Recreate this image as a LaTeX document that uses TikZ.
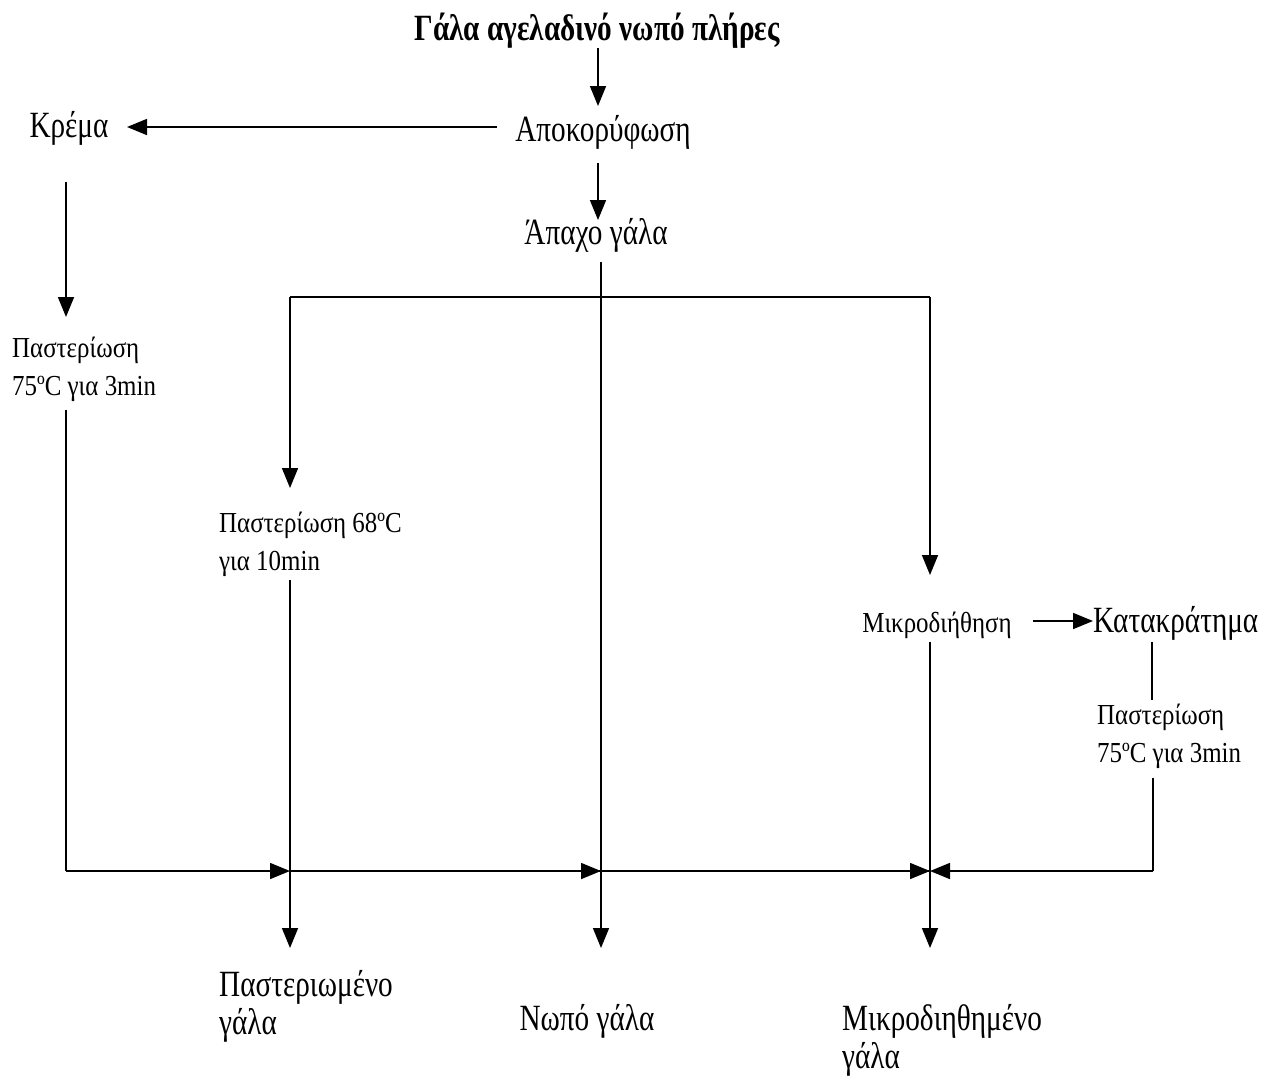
\documentclass[tikz,border=0pt]{standalone}
\usepackage{fontspec}
\setmainfont{Liberation Serif}[FakeStretch=0.79]
\newfontfamily\smallfam{Liberation Serif}[FakeStretch=0.86]
\usetikzlibrary{arrows.meta}
\begin{document}
\begin{tikzpicture}[x=1pt,y=-1pt,
  big/.style={font=\fontsize{37}{38}\selectfont, inner sep=0pt, align=left},
  small/.style={font=\smallfam\fontsize{29}{38}\selectfont, inner sep=0pt, align=left},
  ln/.style={line width=1.6pt},
  arr/.style={ln, -{Triangle[length=20pt,width=16pt]}},
  thick line/.style={line width=2.6pt}]
\useasboundingbox (0,0) rectangle (1279,1088);
% texts (multi-line nodes: base = baseline of last line)
\node[big, font=\fontsize{37}{38}\selectfont\bfseries, anchor=base] (title) at (597,40) {Γάλα αγελαδινό νωπό πλήρες};
\node[big, anchor=base] (apok) at (603,141) {Αποκορύφωση};
\node[big, anchor=base] (krema) at (69,137) {Κρέμα};
\node[big, anchor=base] (apaxo) at (596,244) {Άπαχο γάλα};
\node[small, anchor=base west] (pastL) at (12,395) {Παστερίωση\\75ºC για 3min};
\node[small, anchor=base west] (pastM) at (219,570) {Παστερίωση 68ºC\\για 10min};
\node[small, anchor=base] (mikro) at (937,632) {Μικροδιήθηση};
\node[big, anchor=base west] (katak) at (1093,632) {Κατακράτημα};
\node[small, anchor=base west] (pastR) at (1097,762) {Παστερίωση\\75ºC για 3min};
\node[big, anchor=base west] (pmilk) at (219,1034) {Παστεριωμένο\\γάλα};
\node[big, anchor=base] (nmilk) at (587,1030) {Νωπό γάλα};
\node[big, anchor=base west] (mmilk) at (842,1068) {Μικροδιηθημένο\\γάλα};
% junction coordinates
\coordinate (splitL) at (290,297);
\coordinate (splitR) at (930,297);
\coordinate (cornerL) at (66,871);
\coordinate (jP) at (290,871);
\coordinate (jN) at (601,871);
\coordinate (jM) at (930,871);
\coordinate (cornerR) at (1153,871);
% connectors
\draw[arr] (598,48) -- (598,106);
\draw[arr] (497,127) -- (127,127);
\draw[arr] (598,163) -- (598,220);
\draw[arr] (66,182) -- (66,317);
\draw[ln] (601,262) -- (601,297);
\draw[ln] (splitL) -- (splitR);
\draw[arr] (splitL) -- (290,488);
\draw[arr] (splitR) -- (930,575);
\draw[arr] (1033,621) -- (1093,621);
\draw[ln] (1152,642) -- (1152,700);
% vertical through-lines
\draw[ln] (66,410) -- (cornerL);
\draw[arr] (290,580) -- (290,948);
\draw[arr] (601,297) -- (601,948);
\draw[arr] (930,642) -- (930,948);
\draw[ln] (1153,778) -- (cornerR);
% horizontal collector
\draw[arr] (cornerL) -- (jP);
\draw[thick line] (jP) -- (jM);
\draw[arr] (jP) -- (jN);
\draw[arr] (jN) -- (jM);
\draw[arr] (cornerR) -- (jM);
\end{tikzpicture}
\end{document}
